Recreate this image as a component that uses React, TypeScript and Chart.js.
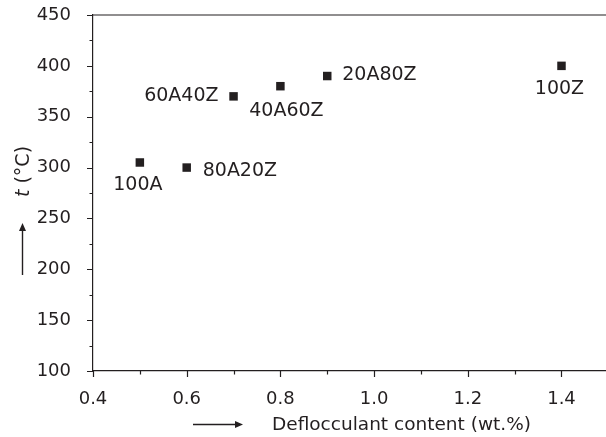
import React, { useEffect, useRef } from "react";
import { Chart, registerables } from "chart.js";

Chart.register(...registerables);

// ---- data ----
const SAMPLE_NAMES = ["100A", "80A20Z", "60A40Z", "40A60Z", "20A80Z", "100Z"];
const DEFLOCCULANT = [0.5, 0.6, 0.7, 0.8, 0.9, 1.4];
const TEMPERATURE = [305, 300, 370, 380, 390, 400];

const X_TICKS = [0.4, 0.5, 0.6, 0.7, 0.8, 0.9, 1.0, 1.1, 1.2, 1.3, 1.4];
const X_MAJOR = [0.4, 0.6, 0.8, 1.0, 1.2, 1.4];
const Y_TICKS = [100, 125, 150, 175, 200, 225, 250, 275, 300, 325, 350, 375, 400, 425, 450];
const Y_MAJOR = [100, 150, 200, 250, 300, 350, 400, 450];

// label placement styles (offsets from marker, px)
const LABEL_STYLE: { dx: number; dy: number; align: CanvasTextAlign }[] = [
  { dx: -2, dy: 23, align: "center" },
  { dx: 16, dy: 3, align: "left" },
  { dx: -15, dy: 0, align: "right" },
  { dx: 6, dy: 25, align: "center" },
  { dx: 15, dy: -1, align: "left" },
  { dx: -2, dy: 23, align: "center" },
];

const INK = "#231f20";
const FONT = "DejaVu Sans";

const isMajor = (list: number[], v: number) => list.some((m) => Math.abs(m - v) < 1e-6);

const decorPlugin = {
  id: "decor",
  afterDraw(chart: any) {
    const ctx: CanvasRenderingContext2D = chart.ctx;
    const { left, right, top, bottom } = chart.chartArea;
    const xs = chart.scales.x;
    const ys = chart.scales.y;
    ctx.save();
    ctx.strokeStyle = INK;
    ctx.fillStyle = INK;
    ctx.lineWidth = 1.2;
    // top frame line
    ctx.beginPath();
    ctx.moveTo(left, top);
    ctx.lineTo(right, top);
    ctx.stroke();
    // ticks
    ctx.beginPath();
    X_TICKS.forEach((v) => {
      const px = Math.round(xs.getPixelForValue(v)) + 0.5;
      const len = isMajor(X_MAJOR, v) ? 6 : 3.5;
      ctx.moveTo(px, bottom);
      ctx.lineTo(px, bottom + len);
    });
    Y_TICKS.forEach((v) => {
      const py = Math.round(ys.getPixelForValue(v)) + 0.5;
      const len = isMajor(Y_MAJOR, v) ? 6 : 3.5;
      ctx.moveTo(left, py);
      ctx.lineTo(left - len, py);
    });
    ctx.stroke();

    // point labels
    ctx.font = `19px "${FONT}"`;
    ctx.textBaseline = "middle";
    SAMPLE_NAMES.forEach((name, i) => {
      const px = xs.getPixelForValue(DEFLOCCULANT[i]);
      const py = ys.getPixelForValue(TEMPERATURE[i]);
      const st = LABEL_STYLE[i];
      ctx.textAlign = st.align;
      ctx.fillText(name, px + st.dx, py + st.dy);
    });

    // x axis title with arrow
    ctx.font = `18.5px "${FONT}"`;
    ctx.textAlign = "left";
    ctx.textBaseline = "alphabetic";
    ctx.fillText("Deflocculant content (wt.%)", 272, 430);
    ctx.lineWidth = 1.4;
    ctx.beginPath();
    ctx.moveTo(193, 424.5);
    ctx.lineTo(236, 424.5);
    ctx.stroke();
    ctx.beginPath();
    ctx.moveTo(243, 424.5);
    ctx.lineTo(235, 421);
    ctx.lineTo(235, 428);
    ctx.closePath();
    ctx.fill();

    // y axis title with arrow
    ctx.save();
    ctx.translate(24, 171.5);
    ctx.rotate(-Math.PI / 2);
    ctx.textBaseline = "middle";
    ctx.font = `italic 19px "${FONT}"`;
    const tW = ctx.measureText("t").width;
    ctx.font = `19px "${FONT}"`;
    const restW = ctx.measureText(" (°C)").width;
    const start = -(tW + restW) / 2;
    ctx.textAlign = "left";
    ctx.font = `italic 19px "${FONT}"`;
    ctx.fillText("t", start, 0);
    ctx.font = `19px "${FONT}"`;
    ctx.fillText(" (°C)", start + tW, 0);
    ctx.restore();

    ctx.beginPath();
    ctx.moveTo(22.5, 275);
    ctx.lineTo(22.5, 230);
    ctx.stroke();
    ctx.beginPath();
    ctx.moveTo(22.5, 223);
    ctx.lineTo(19, 231);
    ctx.lineTo(26, 231);
    ctx.closePath();
    ctx.fill();
    ctx.restore();
  },
};

export default function App() {
  const ref = useRef<HTMLCanvasElement | null>(null);
  useEffect(() => {
    if (!ref.current) return;
    const chart = new Chart(ref.current, {
      type: "scatter",
      data: {
        datasets: [
          {
            data: DEFLOCCULANT.map((x, i) => ({ x, y: TEMPERATURE[i] })),
            pointStyle: "rect",
            pointRadius: 6,
            pointHoverRadius: 6,
            backgroundColor: INK,
            borderColor: INK,
            borderWidth: 0,
          },
        ],
      },
      options: {
        responsive: false,
        animation: false,
        layout: { autoPadding: false, padding: { top: 15, right: 0, left: 0, bottom: 0 } },
        plugins: { legend: { display: false }, tooltip: { enabled: false }, title: { display: false } },
        scales: {
          x: {
            type: "linear",
            min: 0.4,
            max: 1.495,
            grid: { display: false },
            border: { display: true, color: INK, width: 1.2 },
            afterBuildTicks: (s: any) => {
              s.ticks = X_TICKS.map((v) => ({ value: v }));
            },
            afterFit: (s: any) => {
              s.height = 66;
              s.paddingLeft = 0;
              s.paddingRight = 0;
            },
            ticks: {
              autoSkip: false,
              maxRotation: 0,
              padding: 10,
              color: INK,
              font: { family: FONT, size: 18 },
              callback: (v: any) => (isMajor(X_MAJOR, Number(v)) ? Number(v).toFixed(1) : ""),
            },
          },
          y: {
            type: "linear",
            min: 100,
            max: 450,
            grid: { display: false },
            border: { display: true, color: INK, width: 1.2 },
            afterBuildTicks: (s: any) => {
              s.ticks = Y_TICKS.map((v) => ({ value: v }));
            },
            afterFit: (s: any) => {
              s.width = 93;
              s.paddingTop = 0;
              s.paddingBottom = 0;
            },
            ticks: {
              autoSkip: false,
              padding: 14,
              color: INK,
              font: { family: FONT, size: 18 },
              callback: (v: any) => (isMajor(Y_MAJOR, Number(v)) ? String(v) : ""),
            },
          },
        },
      },
      plugins: [decorPlugin],
    });
    return () => chart.destroy();
  }, []);
  return (
    <div style={{ position: "absolute", left: 0, top: 0, width: 606, height: 437, background: "#fff" }}>
      <canvas ref={ref} width={606} height={437} style={{ display: "block" }} />
    </div>
  );
}
